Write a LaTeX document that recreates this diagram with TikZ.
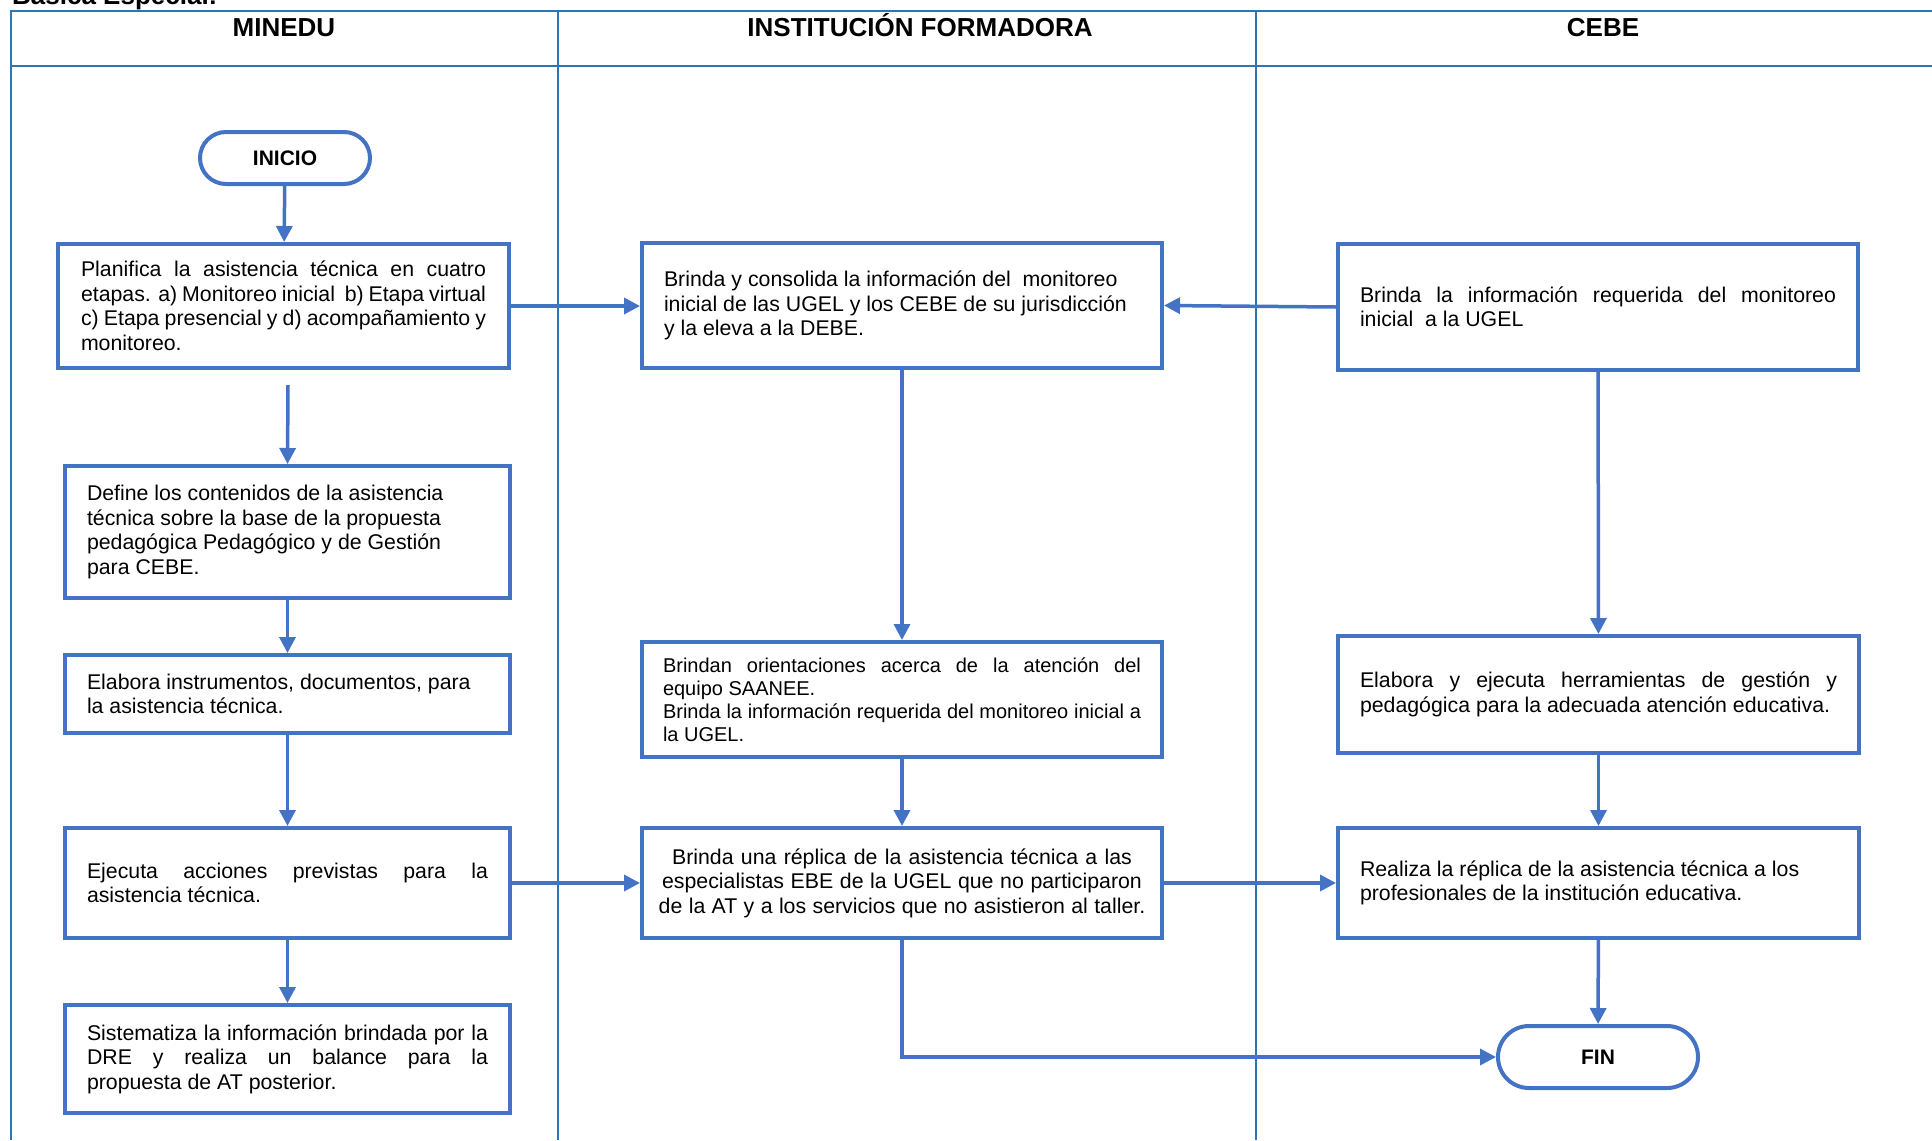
\documentclass[tikz,border=0pt]{standalone}
\usepackage{fontspec}
\setmainfont{Liberation Sans}
\usetikzlibrary{arrows.meta,calc}
\definecolor{boxblue}{HTML}{4472C4}
\definecolor{gridblue}{HTML}{2E75B6}
\newcommand\jl[2]{\makebox[#1][s]{\spaceskip=0pt\xspaceskip=0pt #2}}
\tikzset{
  every node/.style={font=\fontsize{21.3}{24.5}\selectfont},
  proc/.style={draw=boxblue, line width=4pt, fill=white, rectangle, inner ysep=0pt, inner xsep=22pt, align=left,
    execute at begin node={\spaceskip=0pt\xspaceskip=0pt}},
  term/.style={draw=boxblue, line width=4pt, fill=white, rectangle, rounded corners=26pt, inner sep=0pt, font=\fontsize{21}{24}\selectfont\bfseries},
  flow/.style={draw=boxblue, line width=3.5pt, -{Triangle[length=16pt,width=16pt]}},
  grid/.style={draw=gridblue, line width=2pt},
  head/.style={font=\fontsize{26}{30}\selectfont\bfseries, anchor=base, inner sep=0pt}
}
\begin{document}
\begin{tikzpicture}[x=1pt,y=-1pt]
\useasboundingbox (0,0) rectangle (1932,1140);
% title (cut off at top)
\node[head, anchor=base west] (ttl) at (12,5) {Básica Especial:};
% table grid
\draw[grid] (11,1140) -- (11,11) -- (1932,11);
\draw[grid] (11,66.5) -- (1932,66.5);
\draw[grid] (558,11) -- (558,1140);
\draw[grid] (1255.5,11) -- (1255.5,1140);
\node[head] (h1) at (284,37) {MINEDU};
\node[head] (h2) at (920,37) {INSTITUCIÓN FORMADORA};
\node[head] (h3) at (1603,37) {CEBE};

% terminals
\node[term, minimum width=170pt, minimum height=52pt] (inicio) at (285,158) {INICIO};
\node[term, minimum width=200pt, minimum height=62pt, rounded corners=31pt] (fin) at (1598,1057) {FIN};

% MINEDU column
\node[proc, minimum width=451pt, minimum height=124pt, text width=405pt, inner xsep=23pt] (plan) at (283.5,306) {%
\jl{405pt}{Planifica la asistencia técnica en cuatro}\\
\jl{405pt}{etapas. a) Monitoreo inicial \ b) Etapa virtual}\\
\jl{405pt}{c) Etapa presencial y d) acompañamiento y}\\
monitoreo.};
\node[proc, minimum width=445pt, minimum height=132pt, text width=401pt] (define) at (287.5,532) {%
Define los contenidos de la asistencia\\
técnica sobre la base de la propuesta\\
pedagógica Pedagógico y de Gestión\\
para CEBE.};
\node[proc, minimum width=445pt, minimum height=78pt, text width=401pt] (elab) at (287.5,694) {%
Elabora instrumentos, documentos, para\\
la asistencia técnica.};
\node[proc, minimum width=445pt, minimum height=110pt, text width=401pt] (ejecuta) at (287.5,883) {%
\jl{401pt}{Ejecuta acciones previstas para la}\\
asistencia técnica.};
\node[proc, minimum width=445pt, minimum height=108pt, text width=401pt] (sist) at (287.5,1059) {%
\jl{401pt}{Sistematiza la información brindada por la}\\
\jl{401pt}{DRE y realiza un balance para la}\\
propuesta de AT posterior.};

% INSTITUCIÓN FORMADORA column
\node[proc, minimum width=520pt, minimum height=125pt, text width=476pt] (consol) at (902,305.5) {%
Brinda y consolida la información del \ monitoreo\\
inicial de las UGEL y los CEBE de su jurisdicción\\
y la eleva a la DEBE.};
\node[proc, minimum width=520pt, minimum height=115pt, text width=478pt, inner xsep=21pt, font=\fontsize{20}{23}\selectfont] (orient) at (902,699.5) {%
\jl{478pt}{Brindan orientaciones acerca de la atención del}\\
equipo SAANEE.\\
\jl{478pt}{Brinda la información requerida del monitoreo inicial a}\\
la UGEL.};
\node[proc, minimum width=520pt, minimum height=110pt, text width=500pt, inner xsep=10pt, align=center] (replica) at (902,883) {%
Brinda una réplica de la asistencia técnica a las\\
especialistas EBE de la UGEL que no participaron\\
de la AT y a los servicios que no asistieron al taller.};

% CEBE column
\node[proc, minimum width=520pt, minimum height=126pt, text width=476pt] (cebe1) at (1598,307) {%
\jl{476pt}{Brinda la información requerida del monitoreo}\\
inicial \ a la UGEL};
\node[proc, minimum width=521pt, minimum height=117pt, text width=477pt] (ejec2) at (1598.5,694.5) {%
\jl{477pt}{Elabora y ejecuta herramientas de gestión y}\\
pedagógica para la adecuada atención educativa.};
\node[proc, minimum width=521pt, minimum height=110pt, text width=477pt] (realiza) at (1598.5,883) {%
Realiza la réplica de la asistencia técnica a los\\
profesionales de la institución educativa.};

% connectors
\coordinate (pstart) at (288,385);
\draw[flow] (inicio) -- (plan);
\draw[flow] (pstart) -- (define.north);
\draw[flow] (define) -- (elab);
\draw[flow] (elab) -- (ejecuta);
\draw[flow] (ejecuta) -- (sist);
\draw[flow] (plan.east) -- (plan.east -| consol.west);
\draw[flow] (cebe1.west) -- (consol.east);
\draw[flow] (consol) -- (orient);
\draw[flow] (orient) -- (replica);
\draw[flow] (ejecuta) -- (replica);
\draw[flow] (replica) -- (realiza);
\draw[flow] (cebe1) -- (ejec2);
\draw[flow] (ejec2) -- (realiza);
\draw[flow] (realiza) -- (fin);
\draw[flow] (replica.south) |- (fin.west);
\end{tikzpicture}
\end{document}
